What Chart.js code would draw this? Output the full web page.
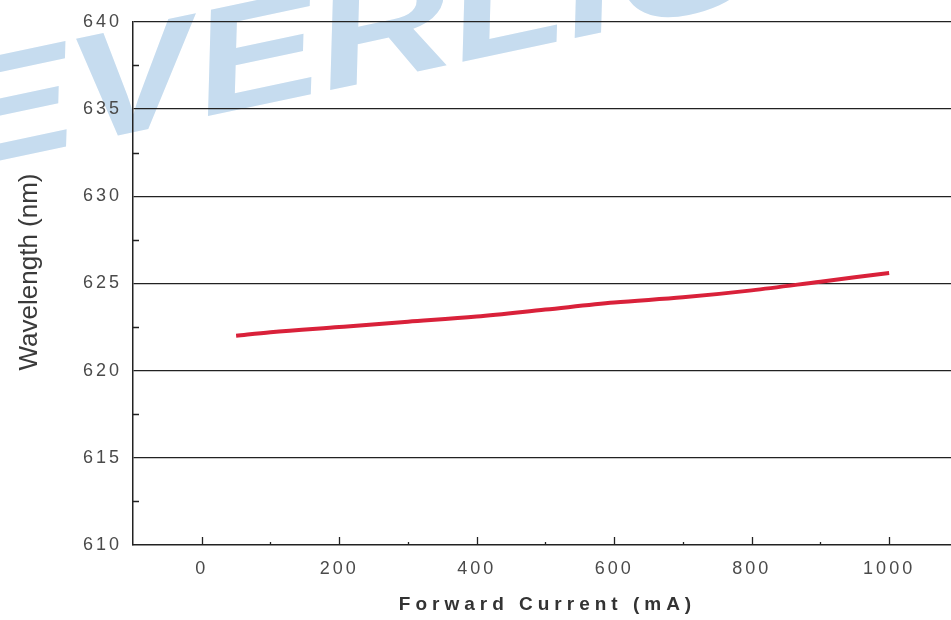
<!DOCTYPE html>
<html><head><meta charset="utf-8">
<script src="https://cdn.jsdelivr.net/npm/chart.js@4"></script>
<style>html,body{margin:0;padding:0;background:#fff}#wrap{width:951px;height:620px;position:relative}</style>
</head><body><div id="wrap"><canvas id="c"></canvas></div>
<script>
const currentMA = [50, 100, 200, 300, 400, 500, 600, 700, 800, 900, 1000];
const wavelengthNm = [622.0, 622.2, 622.5, 622.8, 623.1, 623.5, 623.9, 624.2, 624.6, 625.1, 625.6];
const xTicks = [0, 200, 400, 600, 800, 1000];
const xMinorTicks = [100, 300, 500, 700, 900];
const yTicks = [610, 615, 620, 625, 630, 635, 640];
const yMinorTicks = [612.5, 617.5, 622.5, 627.5, 632.5, 637.5];
const xTitle = 'Forward Current (mA)';
const yTitle = 'Wavelength (nm)';
const watermark = 'EVERLIGHT';

const decor = {
  id: 'decor',
  beforeDraw(chart) {
    const ctx = chart.ctx;
    ctx.save();
    ctx.translate(-40, 169);
    ctx.rotate(-0.21);
    ctx.scale(1.25, 1);
    ctx.font = 'italic bold 150px "Liberation Sans"';
    ctx.fillStyle = '#c6dcef';
    ctx.textBaseline = 'alphabetic';
    ctx.fillText(watermark, 0, 0);
    ctx.restore();
    ctx.letterSpacing = '3px';
  },
  afterDraw(chart) {
    const ctx = chart.ctx;
    ctx.letterSpacing = '0px';
    const xs = chart.scales.x, ys = chart.scales.y;
    const left = chart.chartArea.left, bottom = chart.chartArea.bottom;
    ctx.save();
    ctx.strokeStyle = '#222';
    ctx.lineWidth = 1.3;
    ctx.beginPath();
    xTicks.forEach(v => { const p = Math.round(xs.getPixelForValue(v)) + 0.5; ctx.moveTo(p, bottom); ctx.lineTo(p, bottom - 8); });
    xMinorTicks.forEach(v => { const p = Math.round(xs.getPixelForValue(v)) + 0.5; ctx.moveTo(p, bottom); ctx.lineTo(p, bottom - 3); });
    yMinorTicks.forEach(v => { const p = Math.round(ys.getPixelForValue(v)) + 0.5; ctx.moveTo(left, p); ctx.lineTo(left + 6, p); });
    ctx.stroke();
    ctx.restore();

    ctx.save();
    ctx.fillStyle = '#3a3a3a';
    ctx.font = '26px "Liberation Sans"';
    ctx.textAlign = 'center';
    ctx.textBaseline = 'middle';
    ctx.translate(30, 272);
    ctx.rotate(-Math.PI / 2);
    ctx.fillText(yTitle, 0, 0);
    ctx.restore();

    ctx.save();
    ctx.fillStyle = '#333';
    ctx.font = 'bold 19px "Liberation Sans"';
    ctx.letterSpacing = '5px';
    ctx.textAlign = 'center';
    ctx.textBaseline = 'middle';
    ctx.fillText(xTitle, 547.5, 605);
    ctx.restore();
  }
};

const tickFont = { family: '"Liberation Sans"', size: 18 };

new Chart(document.getElementById('c'), {
  type: 'line',
  data: {
    datasets: [{
      data: currentMA.map((x, i) => ({ x, y: wavelengthNm[i] })),
      borderColor: '#d9213a',
      borderWidth: 4,
      pointRadius: 0,
      fill: false,
      cubicInterpolationMode: 'monotone'
    }]
  },
  options: {
    responsive: true,
    maintainAspectRatio: false,
    animation: false,
    layout: { padding: { top: 20, left: 0, right: 0, bottom: 0 } },
    plugins: { legend: { display: false }, tooltip: { enabled: false } },
    scales: {
      x: {
        type: 'linear',
        min: -100,
        max: 1090,
        afterBuildTicks: s => { s.ticks = xTicks.map(v => ({ value: v })); },
        afterFit: s => { s.height = 75; },
        grid: { display: false, drawTicks: false },
        border: { display: true, color: '#222', width: 1.5 },
        ticks: { color: '#4a4a4a', font: tickFont, padding: 13, maxRotation: 0, autoSkip: false, callback: v => String(v) }
      },
      y: {
        type: 'linear',
        min: 610,
        max: 640,
        afterBuildTicks: s => { s.ticks = yTicks.map(v => ({ value: v })); },
        afterFit: s => { s.width = 133; },
        grid: { color: c => (c.tick && c.tick.value === 610) ? 'rgba(0,0,0,0)' : '#222', lineWidth: 1.3, drawTicks: false },
        border: { display: true, color: '#222', width: 1.5 },
        ticks: { color: '#4a4a4a', font: tickFont, padding: 11, callback: v => String(v) }
      }
    }
  },
  plugins: [decor]
});
</script>
</body></html>
